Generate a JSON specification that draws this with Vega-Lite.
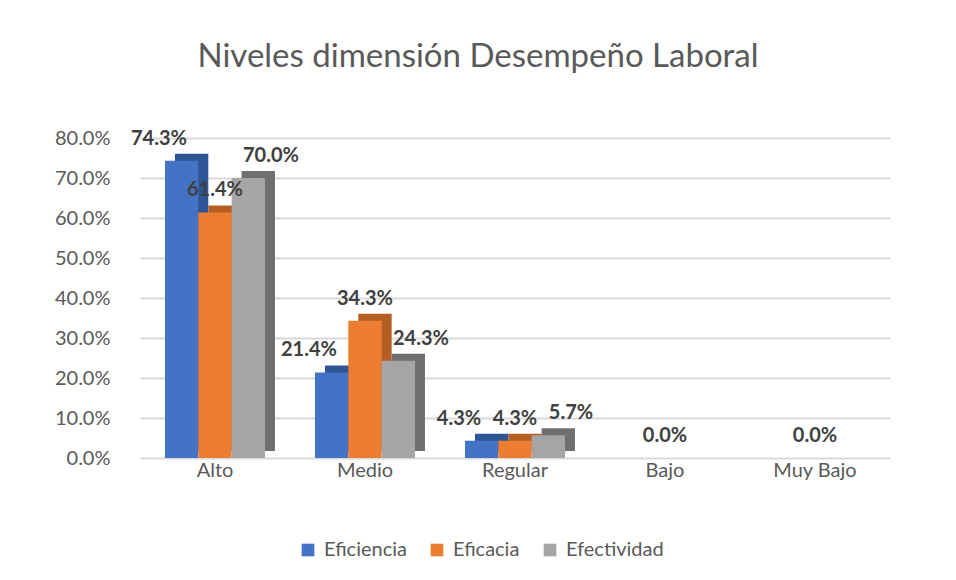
{
  "$schema": "https://vega.github.io/schema/vega-lite/v6.json",
  "width": 750,
  "height": 320,
  "autosize": {"type": "none"},
  "padding": {"left": 140, "top": 138, "right": 66, "bottom": 122},
  "background": "white",
  "title": {
    "text": "Niveles dimensión Desempeño Laboral",
    "font": "Lato",
    "fontSize": 33,
    "fontWeight": "normal",
    "color": "#595959",
    "anchor": "middle",
    "dx": -37,
    "offset": 54
  },
  "data": {
    "values": [
      {"nivel": "Alto", "serie": "Eficiencia", "valor": 0.743},
      {"nivel": "Alto", "serie": "Eficacia", "valor": 0.614},
      {"nivel": "Alto", "serie": "Efectividad", "valor": 0.700},
      {"nivel": "Medio", "serie": "Eficiencia", "valor": 0.214},
      {"nivel": "Medio", "serie": "Eficacia", "valor": 0.343},
      {"nivel": "Medio", "serie": "Efectividad", "valor": 0.243},
      {"nivel": "Regular", "serie": "Eficiencia", "valor": 0.043},
      {"nivel": "Regular", "serie": "Eficacia", "valor": 0.043},
      {"nivel": "Regular", "serie": "Efectividad", "valor": 0.057},
      {"nivel": "Bajo", "serie": "Eficiencia", "valor": 0.0},
      {"nivel": "Bajo", "serie": "Eficacia", "valor": 0.0},
      {"nivel": "Bajo", "serie": "Efectividad", "valor": 0.0},
      {"nivel": "Muy Bajo", "serie": "Eficiencia", "valor": 0.0},
      {"nivel": "Muy Bajo", "serie": "Eficacia", "valor": 0.0},
      {"nivel": "Muy Bajo", "serie": "Efectividad", "valor": 0.0}
    ]
  },
  "encoding": {
    "x": {
      "field": "nivel",
      "type": "nominal",
      "sort": ["Alto", "Medio", "Regular", "Bajo", "Muy Bajo"],
      "scale": {"paddingInner": 0.333, "paddingOuter": 0.1665},
      "axis": {
        "title": null,
        "labelAngle": 0,
        "labelFont": "Lato",
        "labelFontSize": 20,
        "labelColor": "#595959",
        "labelPadding": 2,
        "domain": false,
        "ticks": false
      }
    },
    "y": {
      "field": "valor",
      "type": "quantitative",
      "scale": {"domain": [0, 0.8], "nice": false},
      "axis": {
        "title": null,
        "format": ".1%",
        "values": [0, 0.1, 0.2, 0.3, 0.4, 0.5, 0.6, 0.7, 0.8],
        "labelOverlap": false,
        "labelFont": "Lato",
        "labelFontSize": 20,
        "labelColor": "#595959",
        "labelPadding": 30,
        "domain": false,
        "ticks": false,
        "gridColor": "#d9d9d9",
        "gridWidth": 2
      }
    }
  },
  "layer": [
    {
      "mark": {"type": "bar", "yOffset": -7},
      "encoding": {
        "xOffset": {
          "field": "serie",
          "type": "nominal",
          "sort": ["Eficiencia", "Eficacia", "Efectividad"],
          "scale": {"range": [10, 110], "paddingInner": 0, "paddingOuter": 0}
        },
        "color": {
          "field": "serie",
          "type": "nominal",
          "sort": ["Eficiencia", "Eficacia", "Efectividad"],
          "scale": {"domain": ["Eficiencia", "Eficacia", "Efectividad"], "range": ["#2F5597", "#B45E24", "#6F6F6F"]},
          "legend": null
        }
      }
    },
    {
      "mark": {"type": "bar"},
      "encoding": {
        "xOffset": {
          "field": "serie",
          "type": "nominal",
          "sort": ["Eficiencia", "Eficacia", "Efectividad"],
          "scale": {"range": [0, 100], "paddingInner": 0, "paddingOuter": 0}
        },
        "color": {
          "field": "serie",
          "type": "nominal",
          "sort": ["Eficiencia", "Eficacia", "Efectividad"],
          "scale": {"domain": ["Eficiencia", "Eficacia", "Efectividad"], "range": ["#4472C4", "#ED7D31", "#A5A5A5"]},
          "legend": {
            "title": null,
            "orient": "none",
            "direction": "horizontal",
            "legendX": 158,
            "legendY": 402,
            "symbolType": "square",
            "symbolSize": 160,
            "symbolStrokeWidth": 0,
            "labelFont": "Lato",
            "labelFontSize": 20,
            "labelColor": "#595959",
            "columnPadding": 20,
            "labelOffset": 6
          }
        }
      }
    },
    {
      "transform": [{"filter": "datum.valor > 0 || datum.serie == 'Eficacia'"}],
      "mark": {"type": "text", "dy": -22, "font": "Lato", "fontSize": 20, "fontWeight": "bold", "color": "#404040"},
      "encoding": {
        "xOffset": {
          "field": "serie",
          "type": "nominal",
          "sort": ["Eficiencia", "Eficacia", "Efectividad"],
          "scale": {"type": "point", "domain": ["Eficiencia", "Eficacia", "Efectividad"], "range": [-6, 106], "padding": 0}
        },
        "text": {"field": "valor", "type": "quantitative", "format": ".1%"}
      }
    }
  ],
  "resolve": {"scale": {"color": "independent", "xOffset": "independent"}},
  "config": {"view": {"stroke": null}}
}
